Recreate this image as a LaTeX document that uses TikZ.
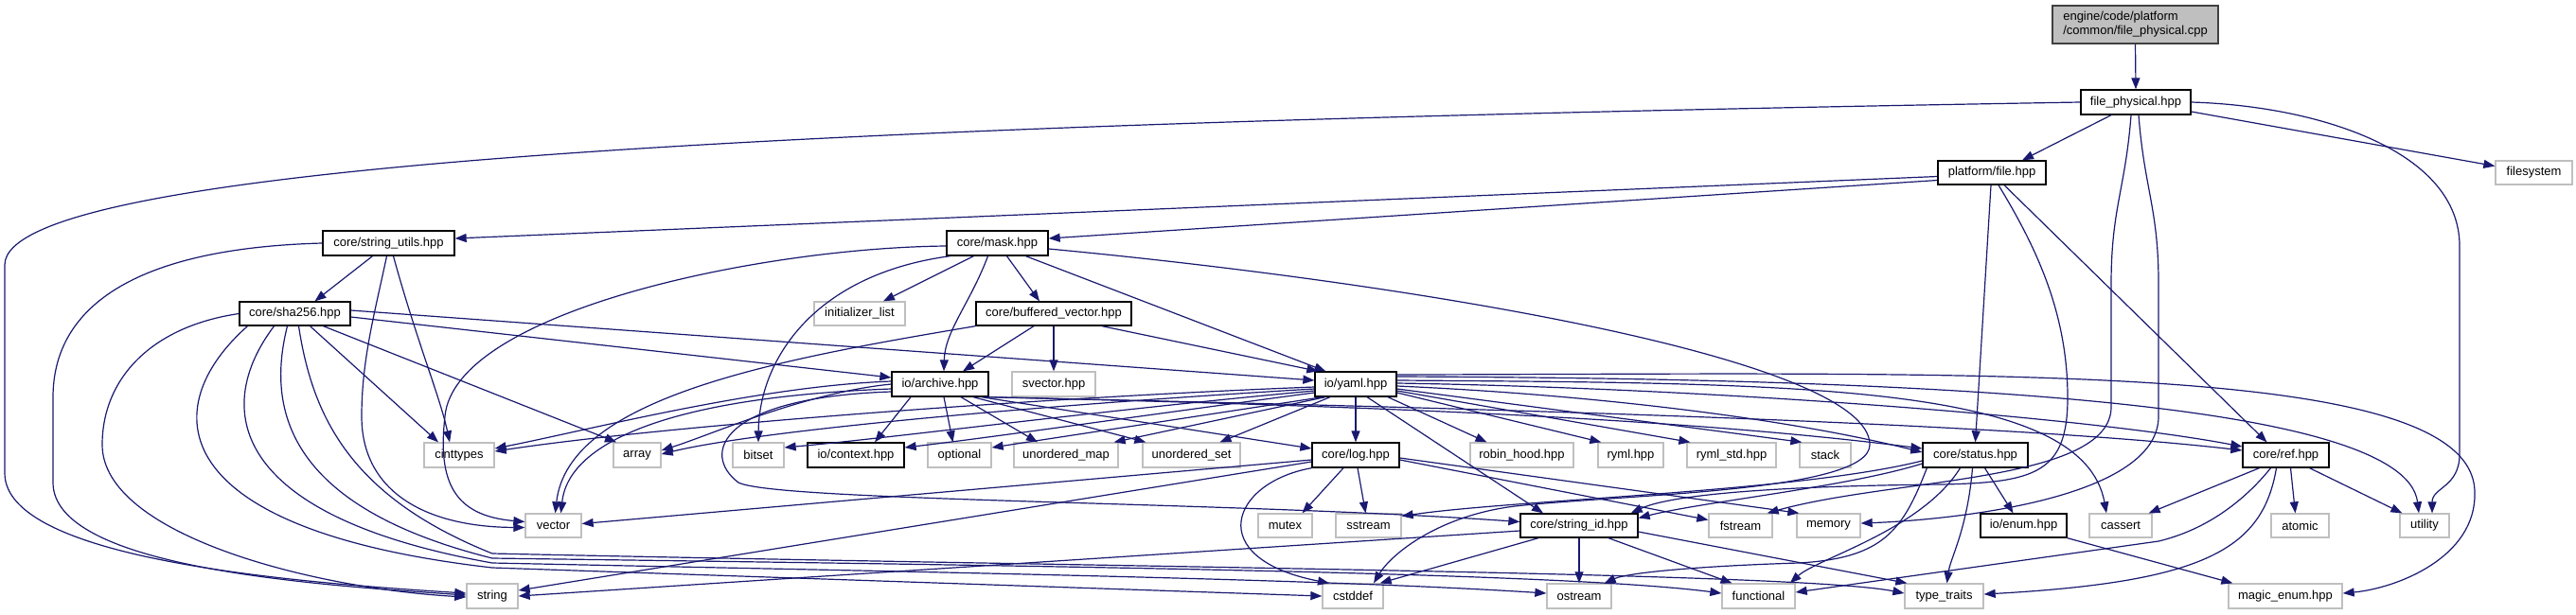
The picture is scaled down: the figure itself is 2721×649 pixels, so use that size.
\documentclass[tikz,border=0pt]{standalone}
\usepackage{fontspec}
\setmainfont{Liberation Sans}
\usetikzlibrary{arrows.meta}
\definecolor{eb}{HTML}{191970}
\definecolor{gb}{HTML}{BFBFBF}
\newcommand{\nodefont}{\fontsize{13}{15}\selectfont}
\newcommand{\dnode}[7]{\node[#1, minimum width={(#5)-(#3)}, minimum height={(#6)-(#4)}] (#2) at ({((#3)+(#5))/2},{((#4)+(#6))/2}) {#7};}
\begin{document}
\begin{tikzpicture}[x=1pt,y=-1pt,
  doc/.style={draw=black, line width=1.3pt, fill=white, inner sep=0pt, font=\nodefont},
  ext/.style={draw=gb, line width=1.3pt, fill=white, inner sep=0pt, font=\nodefont},
  rootbox/.style={draw=black!75, line width=1.3pt, fill=gb, inner sep=0pt, font=\nodefont, align=left},
  e/.style={draw=eb, line width=1.2pt, -{Triangle[length=12pt,width=9pt]}}]
\useasboundingbox (0,0) rectangle (2721,649);
\fill[white] (0,0) rectangle (2721,649);
% nodes
\dnode{rootbox}{root}{2168}{6}{2343}{46}{engine/code/platform\\/common/file\_physical.cpp}
\dnode{doc}{fp}{2198}{95}{2314}{121}{file\_physical.hpp}
\dnode{doc}{pf}{2047}{170}{2161}{195}{platform/file.hpp}
\dnode{ext}{fs}{2636}{170}{2717}{195}{filesystem}
\dnode{doc}{su}{341}{244}{480}{270}{core/string\_utils.hpp}
\dnode{doc}{mask}{1000}{244}{1107}{270}{core/mask.hpp}
\dnode{doc}{sha}{253}{319}{370}{344}{core/sha256.hpp}
\dnode{ext}{il}{860}{319}{956}{344}{initializer\_list}
\dnode{doc}{bv}{1031}{319}{1195}{344}{core/buffered\_vector.hpp}
\dnode{doc}{arc}{942}{393}{1044}{419}{io/archive.hpp}
\dnode{ext}{sv}{1069}{393}{1157}{419}{svector.hpp}
\dnode{doc}{yaml}{1389}{393}{1475}{419}{io/yaml.hpp}
\dnode{ext}{cint}{448}{468}{522}{494}{cinttypes}
\dnode{ext}{arr}{648}{468}{698}{494}{array}
\dnode{ext}{bits}{774}{468}{828}{494}{bitset}
\dnode{doc}{ctx}{853}{468}{955}{494}{io/context.hpp}
\dnode{ext}{opt}{980}{468}{1047}{494}{optional}
\dnode{ext}{umap}{1071}{468}{1181}{494}{unordered\_map}
\dnode{ext}{uset}{1207}{468}{1310}{494}{unordered\_set}
\dnode{doc}{log}{1386}{468}{1478}{494}{core/log.hpp}
\dnode{ext}{rh}{1553}{468}{1662}{494}{robin\_hood.hpp}
\dnode{ext}{ryml}{1688}{468}{1757}{494}{ryml.hpp}
\dnode{ext}{rstd}{1782}{468}{1876}{494}{ryml\_std.hpp}
\dnode{ext}{stack}{1901}{468}{1955}{494}{stack}
\dnode{doc}{status}{2031}{468}{2142}{494}{core/status.hpp}
\dnode{doc}{ref}{2369}{468}{2460}{494}{core/ref.hpp}
\dnode{ext}{vec}{555}{543}{614}{568}{vector}
\dnode{ext}{mutex}{1329}{543}{1386}{568}{mutex}
\dnode{ext}{sst}{1411}{543}{1480}{568}{sstream}
\dnode{doc}{sid}{1606}{543}{1730}{568}{core/string\_id.hpp}
\dnode{ext}{fst}{1805}{543}{1872}{568}{fstream}
\dnode{ext}{mem}{1898}{543}{1965}{568}{memory}
\dnode{doc}{enum}{2092}{543}{2183}{568}{io/enum.hpp}
\dnode{ext}{cass}{2207}{543}{2273}{568}{cassert}
\dnode{ext}{atom}{2399}{543}{2460}{568}{atomic}
\dnode{ext}{util}{2535}{543}{2587}{568}{utility}
\dnode{ext}{str}{493}{617}{547}{643}{string}
\dnode{ext}{cdef}{1397}{617}{1461}{643}{cstddef}
\dnode{ext}{ost}{1634}{617}{1702}{643}{ostream}
\dnode{ext}{func}{1819}{617}{1896}{643}{functional}
\dnode{ext}{tt}{2012}{617}{2095}{643}{type\_traits}
\dnode{ext}{me}{2354}{617}{2474}{643}{magic\_enum.hpp}
% root and file_physical
\draw[e] (root.south) -- (fp.north);
\draw[e] ([xshift=-26pt]fp.south) -- ([xshift=32pt]pf.north);
\draw[e] ([yshift=-10pt]fp.east) -- ([yshift=7pt]fs.west);
\draw[e] (fp.east) .. controls (2450,112) and (2598,160) .. (2598,260) -- (2598,480) .. controls (2598,515) and (2569,515) .. ([xshift=8pt]util.north);
\draw[e] (fp.west) .. controls (900,130) and (5,170) .. (5,280) -- (5,500) .. controls (5,590) and (300,615) .. ([yshift=3pt]str.west);
\draw[e] ([xshift=-5pt]fp.south) .. controls (2245,200) and (2230,220) .. (2230,300) -- (2230,430) .. controls (2230,510) and (2000,505) .. ([xshift=-6pt]fst.north east);
\draw[e] ([xshift=3pt]fp.south) .. controls (2265,200) and (2280,220) .. (2280,300) -- (2280,440) .. controls (2280,530) and (2050,550) .. ([yshift=2.5pt]mem.east);
% platform/file
\draw[e] ([yshift=-4pt]pf.west) -- ([yshift=5pt]su.east);
\draw[e] ([yshift=-8pt]pf.west) -- ([yshift=5pt]mask.east);
\draw[e] ([xshift=-1pt]pf.south) -- (status.north);
\draw[e] ([xshift=13pt]pf.south) -- ([xshift=-20pt]ref.north);
\draw[e] ([xshift=7pt]pf.south) .. controls (2150,260) and (2184,330) .. (2184,420) .. controls (2184,500) and (2150,510) .. (2050,512) .. controls (1850,514) and (1760,525) .. ([xshift=-8pt]sid.north east);
% string_utils
\draw[e] ([xshift=-17pt]su.south) -- ([xshift=21pt]sha.north);
\draw[e] (su.west) .. controls (150,262) and (56,320) .. (56,420) -- (56,510) .. controls (56,600) and (330,618) .. ([yshift=1pt]str.west);
\draw[e] ([xshift=-2pt]su.south) .. controls (396,330) and (382,380) .. (382,440) .. controls (382,520) and (450,557) .. ([yshift=-2pt]vec.west);
\draw[e] ([xshift=5pt]su.south) .. controls (440,360) and (465,420) .. ([xshift=-10pt]cint.north);
% mask
\draw[e] ([xshift=-25pt]mask.south) -- ([xshift=25pt]il.north);
\draw[e] ([xshift=-10pt]mask.south) .. controls (1025,320) and (998,350) .. ([xshift=4pt]arc.north);
\draw[e] ([xshift=10pt]mask.south) -- ([xshift=-15pt]bv.north);
\draw[e] ([xshift=30pt]mask.south) -- ([xshift=12pt]yaml.north west);
\draw[e] ([yshift=-3pt]mask.west) .. controls (800,262) and (480,330) .. (470,440) .. controls (462,510) and (480,545) .. ([yshift=4pt]vec.west);
\draw[e] ([xshift=-50pt]mask.south) .. controls (860,290) and (802,380) .. (bits.north);
\draw[e] ([yshift=-6pt]mask.east) .. controls (1500,300) and (1975,380) .. (1975,470) .. controls (1975,520) and (1720,522) .. (1600,535) .. controls (1520,545) and (1470,585) .. ([xshift=22pt]cdef.north);
% sha256
\draw[e] (sha.west) .. controls (160,345) and (108,400) .. (108,470) .. controls (108,565) and (330,622) .. ([yshift=-1pt]str.west);
\draw[e] ([xshift=-50pt]sha.south) .. controls (165,430) and (170,560) .. (520,600) -- (cdef.west);
\draw[e] ([xshift=-22pt]sha.south) .. controls (225,430) and (240,545) .. (520,595) .. controls (1000,605) and (1400,612) .. ([yshift=3pt]ost.west);
\draw[e] ([xshift=-8pt]sha.south) .. controls (282,430) and (300,535) .. (520,590) .. controls (1100,598) and (1650,605) .. ([yshift=3pt]func.west);
\draw[e] ([xshift=4pt]sha.south) .. controls (330,440) and (370,525) .. (520,585) .. controls (1200,600) and (1900,605) .. ([yshift=3pt]tt.west);
\draw[e] ([xshift=16pt]sha.south) -- ([xshift=-22pt]cint.north);
\draw[e] ([xshift=30pt]sha.south) -- ([xshift=-22pt]arr.north);
\draw[e] ([yshift=3.5pt]sha.east) -- ([yshift=4pt]yaml.west);
\draw[e] ([yshift=-3.5pt]sha.east) -- ([yshift=7pt]arc.west);
% buffered_vector
\draw[e] (bv.south west) .. controls (820,380) and (600,420) .. ([xshift=2pt]vec.north);
\draw[e] ([xshift=-21pt]bv.south) -- ([xshift=24pt]arc.north);
\draw[e] (bv.south) -- (sv.north);
\draw[e] ([xshift=51pt]bv.south) -- ([xshift=4pt]yaml.north west);
% archive
\draw[e] ([xshift=-31pt]arc.south) -- ([xshift=20pt]ctx.north);
\draw[e] ([xshift=4pt]arc.south) -- ([xshift=-7pt]opt.north);
\draw[e] ([xshift=22pt]arc.south) -- ([xshift=-30pt]umap.north);
\draw[e] ([xshift=35pt]arc.south) -- ([xshift=4pt]uset.north west);
\draw[e] ([xshift=-8pt]arc.south east) -- ([yshift=7pt]log.west);
\draw[e] ([xshift=-4pt]arc.south east) .. controls (1500,430) and (1800,445) .. ([yshift=7pt]status.west);
\draw[e] (arc.south east) .. controls (1500,430) and (2100,445) .. ([yshift=5pt]ref.west);
\draw[e] ([yshift=3pt]arc.west) .. controls (800,408) and (620,455) .. ([yshift=7pt]cint.east);
\draw[e] (arc.west) .. controls (850,415) and (750,460) .. ([yshift=5pt]arr.east);
\draw[e] ([yshift=-5pt]arc.west) .. controls (700,420) and (600,470) .. ([xshift=8pt]vec.north);
\draw[e] ([yshift=-8pt]arc.west) .. controls (760,420) and (740,480) .. (780,510) .. controls (820,530) and (1300,530) .. ([yshift=4pt]sid.west);
% yaml
\draw[e] ([yshift=-3pt]yaml.west) .. controls (1100,420) and (700,450) .. ([yshift=4pt]cint.east);
\draw[e] ([yshift=-5pt]yaml.west) .. controls (1100,428) and (800,455) .. ([yshift=1pt]arr.east);
\draw[e] ([yshift=-7pt]yaml.west) .. controls (1150,435) and (950,462) .. ([yshift=8pt]bits.east);
\draw[e] ([yshift=-9pt]yaml.west) .. controls (1200,440) and (1050,462) .. ([yshift=8pt]ctx.east);
\draw[e] ([xshift=-35pt]yaml.south) -- ([yshift=8pt]opt.east);
\draw[e] ([xshift=-32pt]yaml.south) -- ([xshift=-5pt]umap.north east);
\draw[e] ([xshift=-27pt]yaml.south) -- ([xshift=30pt]uset.north);
\draw[e] (yaml.south) -- (log.north);
\draw[e] ([xshift=12pt]yaml.south) -- ([xshift=-38pt]sid.north);
\draw[e] ([xshift=34pt]yaml.south) -- ([xshift=-37pt]rh.north);
\draw[e] ([yshift=-9pt]yaml.east) -- ([xshift=4pt]ryml.north west);
\draw[e] ([yshift=-7pt]yaml.east) -- ([xshift=4pt]rstd.north west);
\draw[e] ([yshift=-5pt]yaml.east) -- ([xshift=3pt]stack.north west);
\draw[e] ([yshift=-2pt]yaml.east) .. controls (1700,418) and (1900,445) .. ([yshift=3pt]status.west);
\draw[e] ([yshift=1pt]yaml.east) .. controls (1800,410) and (2200,440) .. ([yshift=9pt]ref.west);
\draw[e] ([yshift=4pt]yaml.east) .. controls (1900,405) and (2200,405) .. ([xshift=-15pt]cass.north);
\draw[e] ([yshift=8pt]yaml.east) .. controls (2000,400) and (2540,420) .. ([xshift=-6pt]util.north);
\draw[e] ([yshift=10pt]yaml.east) .. controls (2100,395) and (2612,380) .. (2614,520) .. controls (2616,590) and (2530,622) .. ([yshift=3pt]me.east);
% log
\draw[e] ([xshift=-13pt]log.south) -- ([xshift=18pt]mutex.north);
\draw[e] ([xshift=2pt]log.south) -- ([xshift=-3pt]sst.north);
\draw[e] (log.south west) .. controls (1300,510) and (1270,590) .. ([xshift=-25pt]cdef.north);
\draw[e] ([yshift=-7pt]log.west) -- ([yshift=6pt]str.east);
\draw[e] ([yshift=-5pt]log.west) -- ([yshift=2pt]vec.east);
\draw[e] ([yshift=-5pt]log.east) -- ([yshift=6pt]fst.west);
\draw[e] ([yshift=-3pt]log.east) -- ([xshift=3pt]mem.north west);
% status
\draw[e] ([xshift=10pt]status.south) -- ([xshift=-11pt]enum.north);
\draw[e] ([xshift=-3pt]status.south) .. controls (2078,560) and (2060,590) .. ([xshift=3pt]tt.north);
\draw[e] ([xshift=-16pt]status.south) .. controls (2030,560) and (1920,590) .. ([xshift=-6pt]func.north east);
\draw[e] ([yshift=-6pt]status.west) .. controls (1900,520) and (1600,528) .. ([yshift=10pt]sst.east);
\draw[e] ([yshift=-9pt]status.west) .. controls (1950,515) and (1800,530) .. ([yshift=8pt]sid.east);
\draw[e] ([xshift=5pt]status.south west) .. controls (2010,560) and (1990,590) .. (1900,595) .. controls (1800,598) and (1720,605) .. ([xshift=-8pt]ost.north east);
% string_id
\draw[e] ([xshift=-43pt]sid.south) -- ([xshift=-4pt]cdef.north east);
\draw[e] (sid.south) -- (ost.north);
\draw[e] ([xshift=31pt]sid.south) -- ([xshift=-28pt]func.north);
\draw[e] ([yshift=-6.5pt]sid.east) -- ([xshift=3pt]tt.north west);
\draw[e] ([yshift=-5.5pt]sid.west) -- (str.east);
% ref
\draw[e] ([xshift=-28pt]ref.south) -- ([xshift=-4pt]cass.north east);
\draw[e] ([xshift=-16pt]ref.south) .. controls (2370,530) and (2330,560) .. (2280,572) -- ([yshift=4pt]func.east);
\draw[e] ([xshift=-10pt]ref.south) .. controls (2390,580) and (2330,615) .. ([yshift=2pt]tt.east);
\draw[e] ([xshift=5pt]ref.south) -- ([xshift=-5pt]atom.north);
\draw[e] ([xshift=25pt]ref.south) -- ([xshift=3pt]util.north west);
% enum
\draw[e] (enum.south east) -- ([xshift=5pt]me.north west);
\end{tikzpicture}
\end{document}
